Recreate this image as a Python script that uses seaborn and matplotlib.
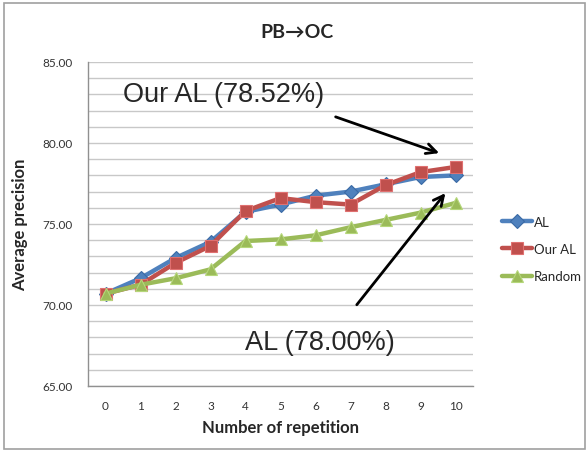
import matplotlib
matplotlib.use("Agg")
import matplotlib.pyplot as plt
import seaborn as sns
import pandas as pd
from matplotlib.patches import Rectangle

repetitions = list(range(11))
al_values = [70.7, 71.65, 72.9, 73.9, 75.75, 76.2, 76.75, 77.0, 77.45, 77.9, 78.0]
our_al_values = [70.7, 71.25, 72.6, 73.65, 75.8, 76.6, 76.35, 76.2, 77.4, 78.2, 78.52]
random_values = [70.7, 71.25, 71.65, 72.2, 73.95, 74.05, 74.3, 74.8, 75.25, 75.7, 76.3]
series_names = ["AL", "Our AL", "Random"]
ytick_values = [65, 70, 75, 80, 85]

df = pd.DataFrame({
    "rep": repetitions * 3,
    "value": al_values + our_al_values + random_values,
    "series": sum([[n] * len(repetitions) for n in series_names], []),
})

sns.set_style("white")
plt.rcParams["font.family"] = ["Lato", "DejaVu Sans"]

fig = plt.figure(figsize=(5.87, 4.52), dpi=100)
ax = fig.add_axes([88 / 587, 1 - 387 / 452, (473 - 88) / 587, (387 - 63) / 452])

# outer frame
fig.patches.append(Rectangle((4 / 587, 2 / 452), 581 / 587, 446 / 452, transform=fig.transFigure,
                             fill=False, edgecolor="#a0a0a0", linewidth=1.2, zorder=0))

colors = {"AL": "#4F81BD", "Our AL": "#C0504D", "Random": "#9BBB59"}
edges = {"AL": "#3A6AA5", "Our AL": "#E07070", "Random": "#B5D77A"}
markers = {"AL": "D", "Our AL": "s", "Random": "^"}
msize = {"AL": 7, "Our AL": 9, "Random": 9}

for name in series_names:
    sub = df[df["series"] == name]
    sns.lineplot(data=sub, x="rep", y="value", ax=ax, color=colors[name], linewidth=3.2,
                 marker=markers[name], markersize=msize[name], markeredgecolor=edges[name],
                 markeredgewidth=0.8, label=name, zorder=3)

ax.set_xlim(-0.5, 10.5)
ax.set_ylim(65, 85)

# gridlines every unit
for v in range(65, 86):
    ax.axhline(v, color="#c8c8c8", linewidth=1.0, zorder=1)

ax.set_yticks(ytick_values)
ax.set_yticklabels([f"{v:.2f}" for v in ytick_values], fontsize=8.5, color="#333333")
ax.set_xticks(repetitions)
ax.set_xticklabels([str(r) for r in repetitions], fontsize=8.5, color="#333333")
ax.set_xticks([r - 0.5 for r in repetitions] + [10.5], minor=True)
ax.tick_params(axis="x", which="major", length=0, pad=10)
ax.tick_params(axis="x", which="minor", length=4, width=1, color="#909090", direction="out")
ax.tick_params(axis="y", which="major", length=5, width=1, color="#909090", direction="out", pad=6)

for s in ["top", "right"]:
    ax.spines[s].set_visible(False)
for s in ["left", "bottom"]:
    ax.spines[s].set_color("#909090")
    ax.spines[s].set_linewidth(1.0)

ax.set_xlabel("Number of repetition", fontsize=12, fontweight="bold", labelpad=6)
ax.set_ylabel("Average precision", fontsize=12, fontweight="bold", labelpad=10)
fig.text(297 / 587, 1 - 33 / 452, "PB→OC", ha="center", va="center", fontsize=14,
         fontweight="bold", family=["Lato", "DejaVu Sans"])

leg = ax.legend(loc="center left", bbox_to_anchor=(490 / 587, 1 - 250 / 452),
                bbox_transform=fig.transFigure, frameon=False, fontsize=9.5,
                handlelength=2.3, handletextpad=0.15, labelspacing=1.15)

ax.annotate("", xy=(9.61, 79.32), xytext=(6.5, 81.67),
            arrowprops=dict(arrowstyle="->", color="black", lw=2, mutation_scale=18), zorder=5)
ax.annotate("", xy=(9.76, 77.04), xytext=(7.13, 69.88),
            arrowprops=dict(arrowstyle="->", color="black", lw=2, mutation_scale=18), zorder=5)
ax.text(3.37, 83.02, "Our AL (78.52%)", ha="center", va="center", fontsize=19.5,
        family=["Liberation Sans"], zorder=6)
ax.text(6.13, 67.72, "AL (78.00%)", ha="center", va="center", fontsize=19.5,
        family=["Liberation Sans"], zorder=6)

fig.savefig("out.png", dpi=100)
